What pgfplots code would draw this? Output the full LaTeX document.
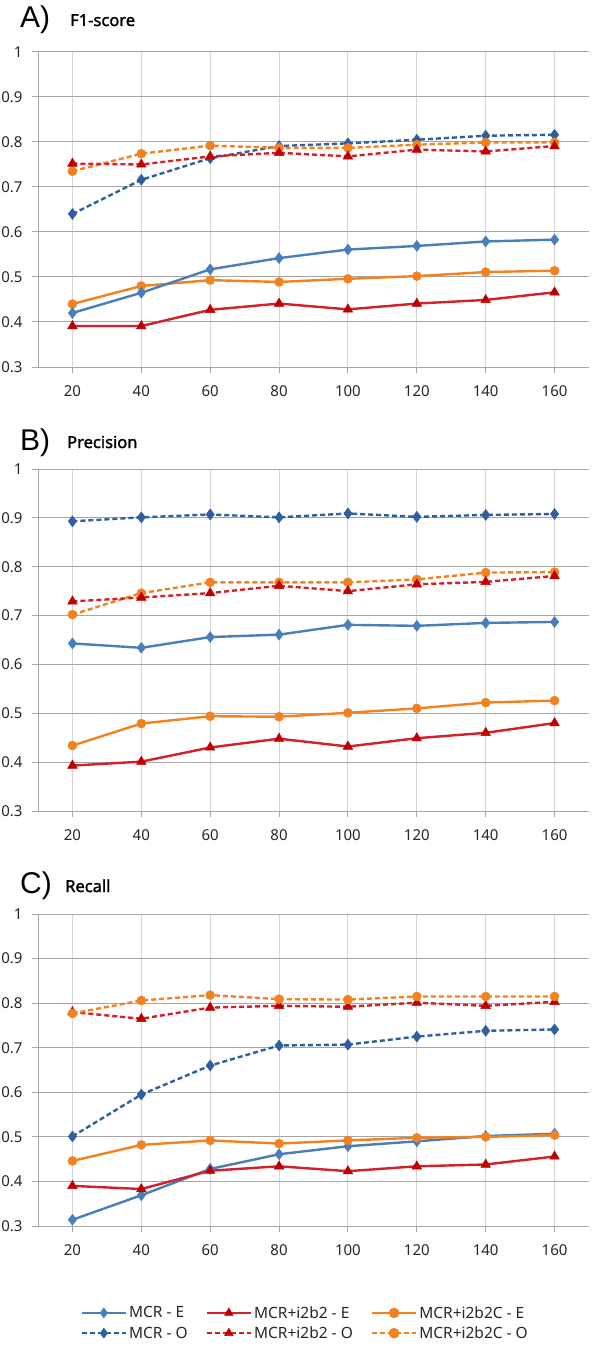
\documentclass[border=0pt]{standalone}
\usepackage{fontspec}
\setmainfont{Noto Sans}
\newfontfamily\titlefont{Liberation Sans}
\newfontfamily\subfont[FakeBold=1.6]{Noto Sans}
\usepackage{pgfplots}
\pgfplotsset{compat=1.18}
\definecolor{cblue}{HTML}{4A7EBB}
\definecolor{cbluedk}{HTML}{2F5F9E}
\definecolor{cred}{HTML}{D3202A}
\definecolor{credm}{HTML}{C00000}
\definecolor{corange}{HTML}{F28220}
\definecolor{gridh}{HTML}{A6A6A6}
\definecolor{gridv}{HTML}{D6D6D6}
\pgfplotsset{
  panel/.style={
    scale only axis, width=551pt,
    xmin=10, xmax=170, ymin=0.3, ymax=1,
    xtick={20,40,60,80,100,120,140,160},
    ytick={0.3,0.4,0.5,0.6,0.7,0.8,0.9,1},
    axis x line*=bottom, axis y line*=left,
    axis line style={draw=gridh, line width=1pt, -},
    xmajorgrids, ymajorgrids,
    x grid style={gridv, line width=1pt},
    y grid style={gridh, line width=1pt},
    tick align=outside, major tick length=6pt,
    tick style={gridh, line width=1pt},
    /pgf/number format/assume math mode=true,
    yticklabel style={/pgf/number format/fixed, /pgf/number format/precision=1, xshift=-6pt},
    xticklabel style={yshift=-9pt},
    tick label style={font=\fontsize{15}{16}\selectfont, color=black!85},
    clip=false,
  },
  sMCRE/.style={cblue, line width=2.4pt, mark=diamond*, mark size=5.5pt, mark options={solid, fill=cblue, draw=cblue, line width=0.5pt}},
  sMCRO/.style={cbluedk, line width=2.4pt, dash pattern=on 5pt off 3pt, mark=diamond*, mark size=5.5pt, mark options={solid, fill=cbluedk, draw=cbluedk, line width=0.5pt}},
  sI2E/.style={cred, line width=2.4pt, mark=triangle*, mark size=5.5pt, mark options={solid, fill=credm, draw=credm, line width=0.5pt}},
  sI2O/.style={cred, line width=2.4pt, dash pattern=on 5pt off 3pt, mark=triangle*, mark size=5.5pt, mark options={solid, fill=credm, draw=credm, line width=0.5pt}},
  sCE/.style={corange, line width=2.4pt, mark=*, mark size=4.5pt, mark options={solid, fill=corange, draw=corange, line width=0.5pt}},
  sCO/.style={corange, line width=2.4pt, dash pattern=on 5pt off 3pt, mark=*, mark size=4.5pt, mark options={solid, fill=corange, draw=corange, line width=0.5pt}},
}
\begin{document}
\begin{tikzpicture}
\useasboundingbox (0,0) rectangle (600pt,-1348pt);
% ---------------- A) F1-score
\begin{axis}[panel, height=315pt, at={(38pt,-52pt)}, anchor=north west]
\addplot[sCE] coordinates {(20,0.440) (40,0.480) (60,0.493) (80,0.489) (100,0.496) (120,0.502) (140,0.511) (160,0.514)};
\addplot[sMCRE] coordinates {(20,0.420) (40,0.465) (60,0.517) (80,0.542) (100,0.561) (120,0.569) (140,0.579) (160,0.583)};
\addplot[sI2E] coordinates {(20,0.391) (40,0.391) (60,0.427) (80,0.441) (100,0.428) (120,0.441) (140,0.449) (160,0.466)};
\addplot[sMCRO] coordinates {(20,0.640) (40,0.716) (60,0.764) (80,0.791) (100,0.797) (120,0.805) (140,0.814) (160,0.816)};
\addplot[sCO] coordinates {(20,0.735) (40,0.774) (60,0.792) (80,0.787) (100,0.787) (120,0.794) (140,0.799) (160,0.799)};
\addplot[sI2O] coordinates {(20,0.752) (40,0.750) (60,0.768) (80,0.776) (100,0.768) (120,0.783) (140,0.779) (160,0.791)};
\end{axis}
% ---------------- B) Precision
\begin{axis}[panel, height=342pt, at={(38pt,-469pt)}, anchor=north west]
\addplot[sCE] coordinates {(20,0.434) (40,0.479) (60,0.494) (80,0.493) (100,0.501) (120,0.510) (140,0.522) (160,0.526)};
\addplot[sMCRE] coordinates {(20,0.643) (40,0.634) (60,0.656) (80,0.661) (100,0.681) (120,0.679) (140,0.685) (160,0.687)};
\addplot[sI2E] coordinates {(20,0.393) (40,0.401) (60,0.430) (80,0.448) (100,0.432) (120,0.449) (140,0.460) (160,0.480)};
\addplot[sMCRO] coordinates {(20,0.893) (40,0.901) (60,0.907) (80,0.901) (100,0.909) (120,0.902) (140,0.906) (160,0.908)};
\addplot[sCO] coordinates {(20,0.702) (40,0.746) (60,0.768) (80,0.768) (100,0.768) (120,0.774) (140,0.788) (160,0.789)};
\addplot[sI2O] coordinates {(20,0.729) (40,0.737) (60,0.746) (80,0.761) (100,0.750) (120,0.764) (140,0.769) (160,0.781)};
\end{axis}
% ---------------- C) Recall
\begin{axis}[panel, height=312pt, at={(38pt,-914pt)}, anchor=north west,
  legend columns=3,
  legend cell align=left,
  legend style={at={(0.485,-0.311)}, anchor=center, draw=none, fill=none,
    font=\fontsize{15.5}{16}\selectfont, text=black!85,
    /tikz/every even column/.append style={column sep=16pt},
    /tikz/every odd column/.append style={column sep=0pt},
    row sep=3pt},
  legend image code/.code={\draw[mark repeat=2, mark phase=2, line width=2.4pt, mark size=5pt] plot coordinates {(0pt,0pt) (22pt,0pt) (44pt,0pt)};},
]
\addplot[sMCRE] coordinates {(20,0.314) (40,0.369) (60,0.428) (80,0.461) (100,0.479) (120,0.490) (140,0.502) (160,0.507)};
\addlegendentry{MCR - E}
\addplot[sI2E] coordinates {(20,0.390) (40,0.383) (60,0.424) (80,0.434) (100,0.423) (120,0.434) (140,0.438) (160,0.456)};
\addlegendentry{MCR+i2b2 - E}
\addplot[sCE] coordinates {(20,0.446) (40,0.482) (60,0.492) (80,0.485) (100,0.492) (120,0.498) (140,0.500) (160,0.504)};
\addlegendentry{MCR+i2b2C - E}
\addplot[sMCRO] coordinates {(20,0.501) (40,0.595) (60,0.660) (80,0.705) (100,0.707) (120,0.725) (140,0.738) (160,0.741)};
\addlegendentry{MCR - O}
\addplot[sI2O] coordinates {(20,0.780) (40,0.765) (60,0.790) (80,0.794) (100,0.792) (120,0.801) (140,0.794) (160,0.803)};
\addlegendentry{MCR+i2b2 - O}
\addplot[sCO] coordinates {(20,0.777) (40,0.806) (60,0.818) (80,0.809) (100,0.808) (120,0.815) (140,0.815) (160,0.815)};
\addlegendentry{MCR+i2b2C - O}
\end{axis}
% ---------------- titles
\node[anchor=base west, inner sep=0pt, font=\titlefont\fontsize{30}{30}\selectfont] at (20pt,-28pt) {A)};
\node[anchor=base west, inner sep=0pt, font=\subfont\fontsize{16.5}{17}\selectfont] at (70pt,-26pt) {F1-score};
\node[anchor=base west, inner sep=0pt, font=\titlefont\fontsize{30}{30}\selectfont] at (20pt,-450pt) {B)};
\node[anchor=base west, inner sep=0pt, font=\subfont\fontsize{16.5}{17}\selectfont] at (67pt,-448pt) {Precision};
\node[anchor=base west, inner sep=0pt, font=\titlefont\fontsize{30}{30}\selectfont] at (20pt,-893pt) {C)};
\node[anchor=base west, inner sep=0pt, font=\subfont\fontsize{16.5}{17}\selectfont] at (65pt,-892pt) {Recall};
\end{tikzpicture}
\end{document}
